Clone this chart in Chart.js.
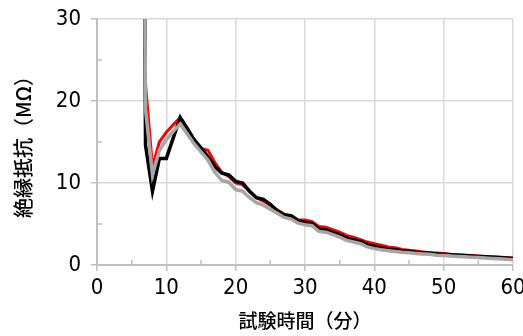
<!DOCTYPE html>
<html>
<head>
<meta charset="utf-8">
<script src="https://cdn.jsdelivr.net/npm/chart.js@4"></script>
<style>
  html, body { margin: 0; padding: 0; background: #fff; }
  #wrap { width: 523px; height: 336px; }
</style>
</head>
<body>
<div id="wrap"><canvas id="chart" width="523" height="336"></canvas></div>
<script>
// 絶縁抵抗の推移：3 本の試験結果（赤・黒・灰）
const MINUTES = [6, 7, 8, 9, 10, 11, 12, 13, 14, 15, 16, 17, 18, 19, 20, 21, 22, 23, 24, 25,
  26, 27, 28, 29, 30, 31, 32, 33, 34, 35, 36, 37, 38, 39, 40, 41, 42, 43, 44, 45,
  46, 47, 48, 49, 50, 51, 52, 53, 54, 55, 56, 57, 58, 59, 60]

const RED = [150, 22, 12, 15, 16.2, 17.1, 18, 16.5, 15.2, 14.2, 14, 12.5, 11.3, 10.8, 10, 9.8, 9, 8.2, 7.8, 7.3,
  6.7, 6.2, 6, 5.5, 5.5, 5.3, 4.7, 4.6, 4.3, 4.0, 3.6, 3.4, 3.1, 2.8, 2.6, 2.4, 2.2, 2.1, 1.9, 1.8,
  1.7, 1.6, 1.5, 1.45, 1.4, 1.3, 1.25, 1.2, 1.15, 1.1, 1.05, 1.0, 0.95, 0.9, 0.85]

const BLACK = [150, 14.6, 9, 13, 13, 15.5, 18, 16.7, 15.3, 14.3, 13.2, 12, 11.2, 11, 10.2, 10, 9, 8.2, 8, 7.4,
  6.6, 6.1, 6, 5.4, 5.2, 5.1, 4.4, 4.3, 4.0, 3.7, 3.3, 3.1, 2.9, 2.5, 2.3, 2.1, 1.95, 1.85, 1.75, 1.65,
  1.55, 1.5, 1.45, 1.35, 1.3, 1.25, 1.2, 1.15, 1.1, 1.05, 1.0, 0.95, 0.9, 0.85, 0.8]

const GRAY = [150, 19, 11, 14, 15.3, 16.3, 17.2, 16, 14.8, 13.8, 12.8, 11.3, 10.3, 10.1, 9.2, 9, 8.2, 7.6, 7.3, 6.8,
  6.3, 5.8, 5.6, 5.1, 4.9, 4.8, 4.1, 4.0, 3.7, 3.4, 3.0, 2.8, 2.6, 2.2, 2.0, 1.85, 1.75, 1.65, 1.55, 1.5,
  1.4, 1.35, 1.3, 1.2, 1.15, 1.1, 1.05, 1.0, 0.95, 0.9, 0.85, 0.8, 0.75, 0.7, 0.65]

const X_TITLE = '試験時間（分）'
const Y_TITLE = '絶縁抵抗（MΩ）'

const TICK_FONT = { family: "'Liberation Sans Narrow', 'DejaVu Sans Condensed', 'Liberation Sans', sans-serif", size: 22 }
const X_TITLE_FONT = { family: "'Noto Sans CJK JP', sans-serif", size: 19, weight: 500 }
const Y_TITLE_FONT = { family: "'Noto Sans CJK JP', sans-serif", size: 20, weight: 500 }
const GRID = '#d9d9d9'
const AXIS = '#bfbfbf'

const toPoints = ys => MINUTES.map((m, i) => ({ x: m, y: ys[i] }))
const isMajor = v => v % 10 === 0

// 補助目盛（5 刻み）は内向きに短く描く
const minorTicks = {
  id: 'minorTicks',
  afterDraw(chart) {
    const { ctx, chartArea: a, scales: { x, y } } = chart
    ctx.save()
    ctx.strokeStyle = AXIS
    ctx.lineWidth = 1.5
    ctx.beginPath()
    for (let v = 5; v < 60; v += 10) {
      const px = x.getPixelForValue(v)
      ctx.moveTo(px, a.bottom)
      ctx.lineTo(px, a.bottom - 5)
    }
    for (let v = 5; v < 30; v += 10) {
      const py = y.getPixelForValue(v)
      ctx.moveTo(a.left, py)
      ctx.lineTo(a.left + 5, py)
    }
    ctx.stroke()
    ctx.restore()
  },
}

const lineSet = (data, color, width) => ({
  data: toPoints(data),
  borderColor: color,
  backgroundColor: color,
  borderWidth: width,
  pointRadius: 0,
  tension: 0,
  fill: false,
})

new Chart(document.getElementById('chart'), {
  type: 'line',
  data: {
    // 先頭が最前面
    datasets: [
      lineSet(GRAY, '#a6a6a6', 3.5),
      lineSet(BLACK, '#000000', 3.5),
      lineSet(RED, '#ff0000', 3),
    ],
  },
  options: {
    responsive: false,
    animation: false,
    events: [],
    layout: { padding: { top: 19, right: 10, left: 0, bottom: 0 } },
    plugins: { legend: { display: false }, tooltip: { enabled: false } },
    scales: {
      x: {
        type: 'linear',
        min: 0,
        max: 60,
        ticks: {
          stepSize: 5,
          color: '#000',
          font: TICK_FONT,
          padding: 4,
          maxRotation: 0,
          autoSkip: false,
          callback: v => (isMajor(v) ? String(v) : ''),
        },
        grid: {
          color: c => (isMajor(c.tick.value) && c.tick.value !== 0 ? GRID : 'rgba(0,0,0,0)'),
          lineWidth: 1.5,
          tickColor: c => (isMajor(c.tick.value) ? AXIS : 'rgba(0,0,0,0)'),
          tickLength: 6,
        },
        border: { color: AXIS, width: 2 },
        title: { display: true, text: X_TITLE, color: '#000', font: X_TITLE_FONT, padding: { top: 0, bottom: 4 } },
        afterFit: s => { s.height = 71; s.paddingRight = 0; s.paddingLeft = 0 },
      },
      y: {
        min: 0,
        max: 30,
        ticks: {
          stepSize: 5,
          color: '#000',
          font: TICK_FONT,
          padding: 10,
          callback: v => (isMajor(v) ? String(v) : ''),
        },
        grid: {
          color: c => (isMajor(c.tick.value) && c.tick.value !== 0 ? GRID : 'rgba(0,0,0,0)'),
          lineWidth: 1.5,
          tickColor: c => (isMajor(c.tick.value) ? AXIS : 'rgba(0,0,0,0)'),
          tickLength: 6,
        },
        border: { color: AXIS, width: 2 },
        title: { display: true, text: Y_TITLE, color: '#000', font: Y_TITLE_FONT, padding: { top: 11, bottom: 0 } },
        afterFit: s => { s.width = 97; s.paddingTop = 0; s.paddingBottom = 0 },
      },
    },
  },
  plugins: [minorTicks],
})
</script>
</body>
</html>
